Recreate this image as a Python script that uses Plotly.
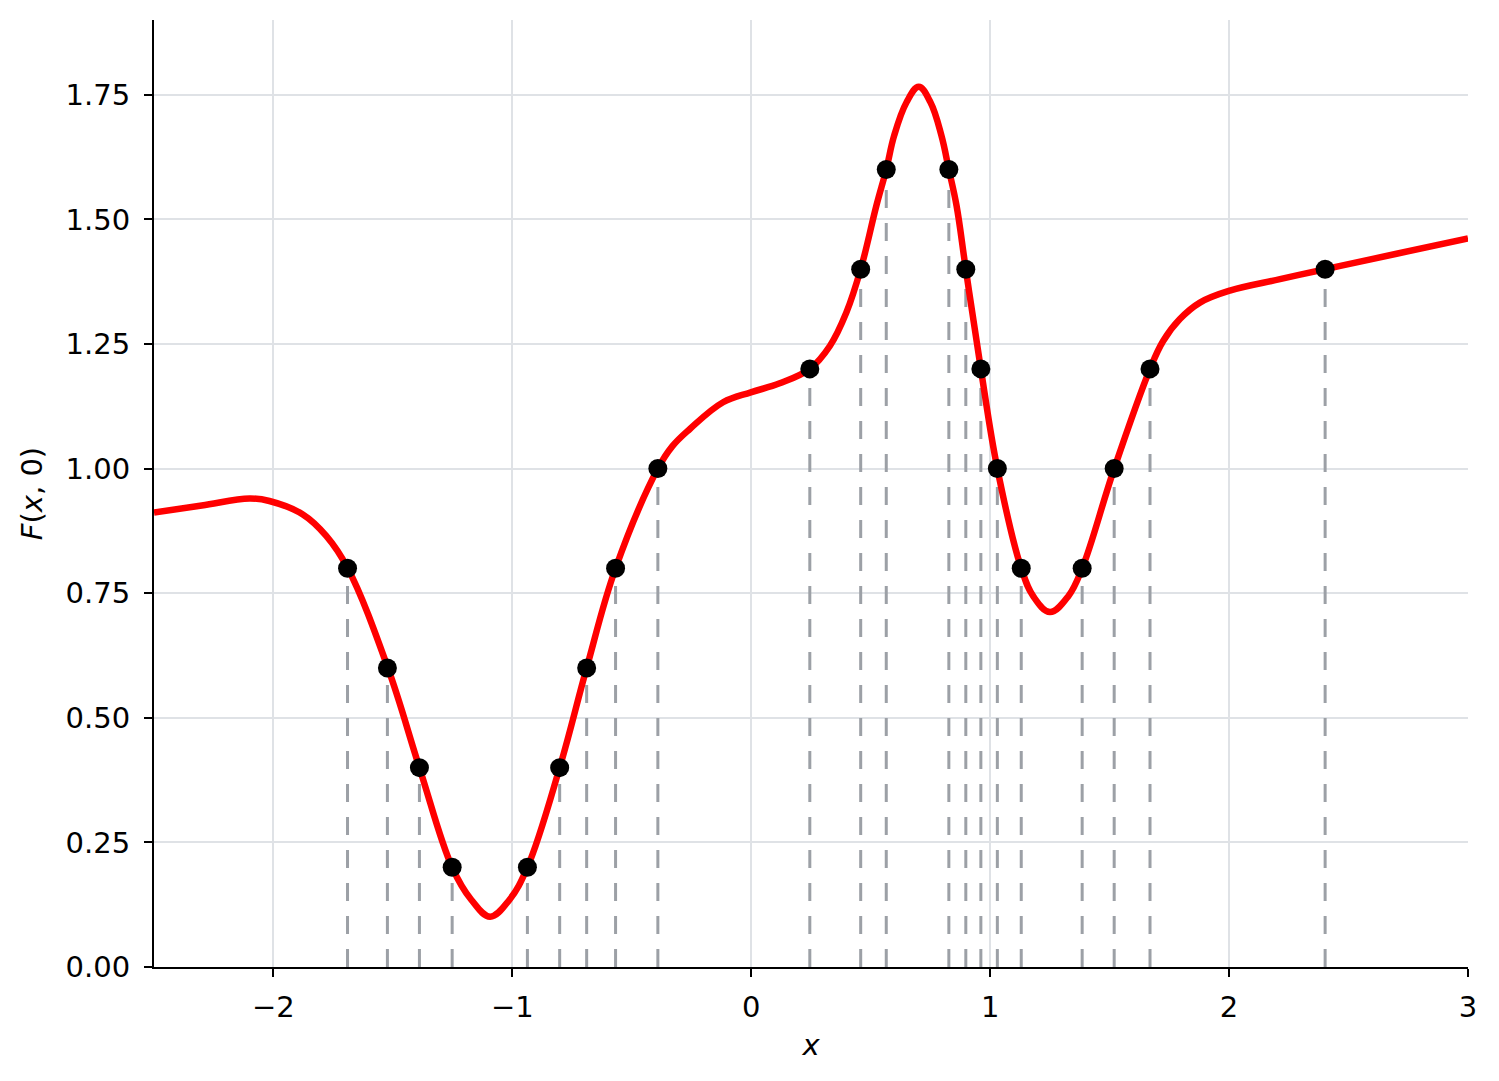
import plotly.graph_objects as go

# curve F(x, 0)
curve_x = [-2.5, -2.3, -2.1, -2.017, -1.877, -1.779, -1.689,
           -1.521, -1.389, -1.252, -1.172, -1.093, -1.012, -0.937,
           -0.802, -0.689, -0.568, -0.391, -0.33, -0.258, -0.118, -0.002,
           0.119, 0.245, 0.329, 0.398, 0.458, 0.524, 0.565, 0.598,
           0.650, 0.701, 0.750, 0.796, 0.827, 0.859, 0.898, 0.961, 1.030,
           1.130, 1.180, 1.250, 1.327, 1.385, 1.519, 1.669, 1.724, 1.794,
           1.878, 2.003, 2.213, 2.402, 2.701, 3.0]
curve_y = [0.912, 0.926, 0.940, 0.935, 0.908, 0.865, 0.80,
           0.60, 0.40, 0.20, 0.135, 0.101, 0.135, 0.20,
           0.40, 0.60, 0.80, 1.00, 1.045, 1.079, 1.133, 1.153,
           1.171, 1.20, 1.246, 1.313, 1.40, 1.528, 1.60, 1.668,
           1.735, 1.766, 1.735, 1.668, 1.60, 1.528, 1.40, 1.20, 1.00,
           0.80, 0.744, 0.712, 0.744, 0.80, 1.00, 1.20, 1.256, 1.30,
           1.333, 1.357, 1.380, 1.40, 1.431, 1.462]

# marked level crossings
pts_x = [-1.690, -1.523, -1.389, -1.252, -0.937, -0.802, -0.689, -0.568, -0.391,
         0.245, 0.458, 0.565, 0.827, 0.898, 0.961, 1.030, 1.130, 1.385, 1.519,
         1.669, 2.402]
pts_y = [0.8, 0.6, 0.4, 0.2, 0.2, 0.4, 0.6, 0.8, 1.0,
         1.2, 1.4, 1.6, 1.6, 1.4, 1.2, 1.0, 0.8, 0.8, 1.0,
         1.2, 1.4]

x_ticks = [-2, -1, 0, 1, 2, 3]
y_ticks = [0, 0.25, 0.5, 0.75, 1.0, 1.25, 1.5, 1.75]

FONT = "DejaVu Sans"
GRID = "#dfe2e6"

# vertical dashed drops from each point to the axis
drop_x, drop_y = [], []
for px_, py_ in zip(pts_x, pts_y):
    drop_x += [px_, px_, None]
    drop_y += [0, py_, None]

fig = go.Figure()
fig.add_trace(go.Scatter(x=drop_x, y=drop_y, mode="lines",
                         line=dict(color="#9ca0a6", width=3, dash="18px,15px"),
                         hoverinfo="skip", showlegend=False))
fig.add_trace(go.Scatter(x=curve_x, y=curve_y, mode="lines",
                         line=dict(color="#ff0000", width=6.5, shape="spline", smoothing=1.1),
                         showlegend=False))
fig.add_trace(go.Scatter(x=pts_x, y=pts_y, mode="markers",
                         marker=dict(color="black", size=19),
                         showlegend=False))

# page body has an 8px margin, so the figure is shifted and shrunk to match
fig.update_layout(
    width=1491, height=1073,
    margin=dict(l=146, r=31, t=12, b=114),
    paper_bgcolor="white", plot_bgcolor="white",
    font=dict(family=FONT, size=29, color="black"),
)
fig.update_xaxes(
    range=[-2.5, 3], tickvals=x_ticks, showgrid=True, gridcolor=GRID, gridwidth=1.5,
    zeroline=False, showline=True, linecolor="black", linewidth=2,
    ticks="outside", ticklen=8, tickwidth=2, tickcolor="black", ticklabelstandoff=5,
    title=dict(text="<i>x</i>", standoff=12, font=dict(size=29)),
)
fig.update_yaxes(
    range=[0, 1.9], tickvals=y_ticks, tickformat=".2f", showgrid=True, gridcolor=GRID,
    gridwidth=1.5, zeroline=False, showline=True, linecolor="black", linewidth=2,
    ticks="outside", ticklen=8, tickwidth=2, tickcolor="black", ticklabelstandoff=8,
    title=dict(text="<i>F</i>(<i>x</i>, 0)", standoff=14, font=dict(size=29)),
)

fig.write_html("out.html")
